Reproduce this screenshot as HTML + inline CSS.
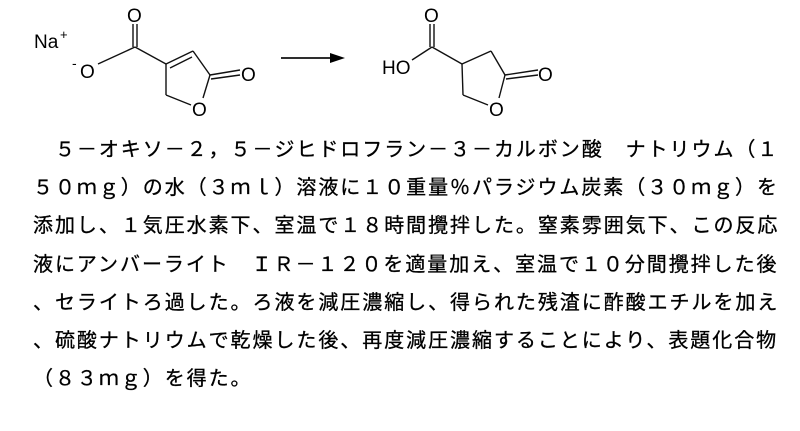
<!DOCTYPE html>
<html><head><meta charset="utf-8"><style>
html,body{margin:0;padding:0;background:#fff;width:800px;height:431px;overflow:hidden}
svg{position:absolute;left:0;top:0}
.t{position:absolute;left:33px;top:131px;font-family:"Liberation Sans","Noto Sans CJK JP",sans-serif;font-size:20px;letter-spacing:1.95px;line-height:38.2px;color:#000;white-space:nowrap;-webkit-text-stroke:0.3px #000}
</style></head><body>
<svg width="800" height="130" viewBox="0 0 800 130" font-family="Liberation Sans, sans-serif" fill="#000">
<g stroke="#111" stroke-width="1.4" fill="none">
<line x1="137" y1="47" x2="137" y2="24"/><line x1="133" y1="47" x2="133" y2="24"/>
<line x1="135" y1="47" x2="98" y2="64"/>
<line x1="135" y1="47" x2="166" y2="64"/>
<line x1="166" y1="64" x2="193" y2="51"/><line x1="170" y1="68" x2="192" y2="57"/>
<line x1="193" y1="51" x2="210" y2="75"/>
<line x1="210" y1="75" x2="240" y2="70"/><line x1="211" y1="79" x2="240" y2="75"/>
<line x1="210" y1="75" x2="203" y2="98"/>
<line x1="166" y1="64" x2="166" y2="95"/>
<line x1="166" y1="95" x2="191" y2="105"/>
<line x1="281" y1="58" x2="335" y2="58" stroke-width="1.8"/>
<line x1="434" y1="47" x2="434" y2="24"/><line x1="430" y1="47" x2="430" y2="24"/>
<line x1="432" y1="47" x2="412" y2="60"/>
<line x1="432" y1="47" x2="462" y2="64"/>
<line x1="462" y1="64" x2="491" y2="51"/>
<line x1="491" y1="51" x2="505" y2="75"/>
<line x1="505" y1="75" x2="538" y2="70"/><line x1="506" y1="79" x2="538" y2="75"/>
<line x1="505" y1="75" x2="499" y2="98"/>
<line x1="462" y1="64" x2="463" y2="95"/>
<line x1="463" y1="95" x2="488" y2="105"/>
</g>
<polygon points="345,58 330,53 330,63" fill="#000"/>
<text x="34" y="48" font-size="19">Na</text><text x="60" y="39" font-size="13">+</text>
<text x="127" y="22" font-size="19">O</text>
<text x="72" y="68" font-size="14">-</text><text x="80" y="78" font-size="19">O</text>
<text x="241" y="81" font-size="19">O</text>
<text x="192" y="116" font-size="19">O</text>
<text x="424" y="22" font-size="19">O</text>
<text x="382" y="74" font-size="19">HO</text>
<text x="538" y="81" font-size="19">O</text>
<text x="489" y="116" font-size="19">O</text>
</svg>
<div class="t">　５－オキソ－２，５－ジヒドロフラン－３－カルボン酸　ナトリウム（１<br>５０ｍｇ）の水（３ｍｌ）溶液に１０重量％パラジウム炭素（３０ｍｇ）を<br>添加し、１気圧水素下、室温で１８時間攪拌した。窒素雰囲気下、この反応<br>液にアンバーライト　ＩＲ－１２０を適量加え、室温で１０分間攪拌した後<br>、セライトろ過した。ろ液を減圧濃縮し、得られた残渣に酢酸エチルを加え<br>、硫酸ナトリウムで乾燥した後、再度減圧濃縮することにより、表題化合物<br>（８３ｍｇ）を得た。</div>
</body></html>
